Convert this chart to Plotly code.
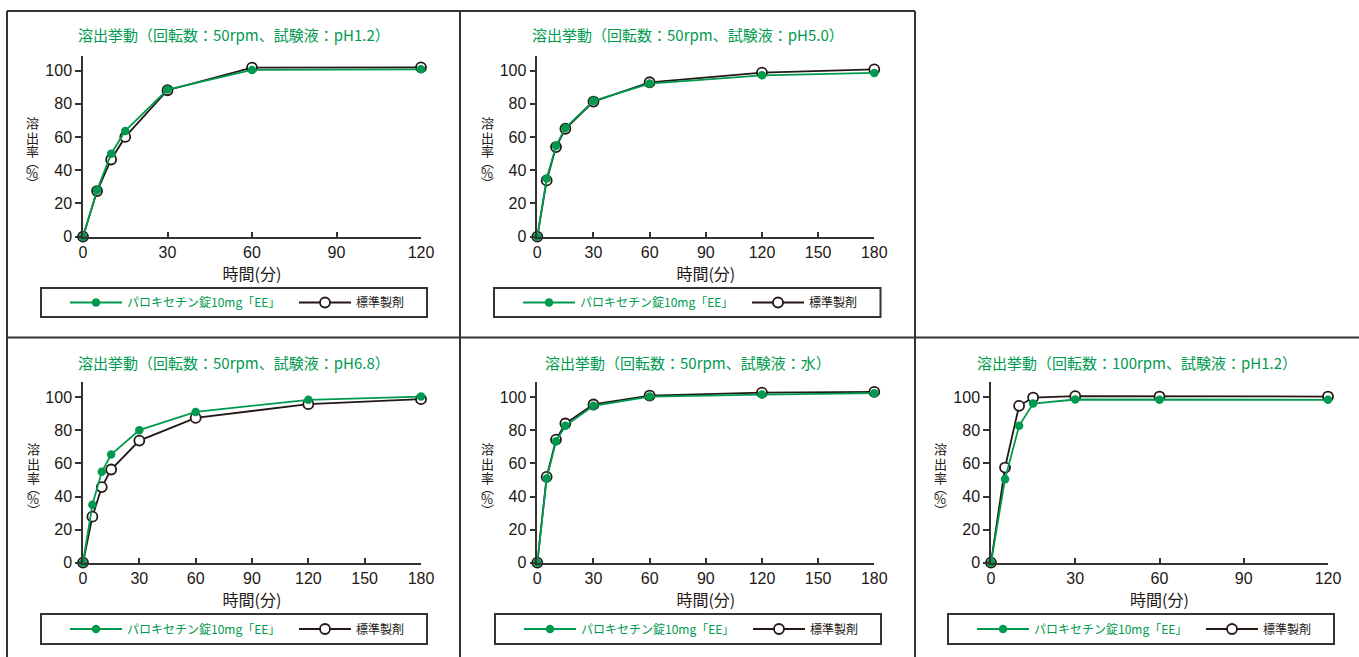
import plotly.graph_objects as go

W, H = 1359, 657

# ---------------- data ----------------
times_120 = [0, 5, 10, 15, 30, 60, 120]
times_180 = [0, 5, 10, 15, 30, 60, 120, 180]

titles = [
    "溶出挙動（回転数：50rpm、試験液：pH1.2）",
    "溶出挙動（回転数：50rpm、試験液：pH5.0）",
    "溶出挙動（回転数：50rpm、試験液：pH6.8）",
    "溶出挙動（回転数：50rpm、試験液：水）",
    "溶出挙動（回転数：100rpm、試験液：pH1.2）",
]
series_names = ["パロキセチン錠10mg「EE」", "標準製剤"]

p1_test = [0, 28.0, 50.0, 63.7, 88.6, 100.4, 100.8]
p1_ref = [0, 27.5, 46.5, 60.1, 88.2, 101.8, 102.0]
p2_test = [0, 35.0, 54.7, 65.5, 81.8, 92.2, 97.2, 98.6]
p2_ref = [0, 33.9, 54.0, 65.0, 81.4, 93.0, 98.8, 100.8]
p3_test = [0, 35.0, 54.9, 65.4, 80.1, 91.1, 98.4, 100.4]
p3_ref = [0, 27.8, 45.7, 56.3, 73.8, 87.5, 95.8, 98.8]
p4_test = [0, 50.9, 73.4, 82.7, 94.8, 100.4, 101.6, 102.4]
p4_ref = [0, 51.9, 74.4, 84.1, 95.6, 101.0, 102.8, 103.2]
p5_test = [0, 50.5, 82.7, 96.2, 98.6, 98.4, 98.4]
p5_ref = [0, 57.5, 94.8, 99.8, 100.6, 100.4, 100.4]

xticks_120 = [0, 30, 60, 90, 120]
xticks_180 = [0, 30, 60, 90, 120, 150, 180]
yticks = [0, 20, 40, 60, 80, 100]
x_title = "時間(分)"
y_title_chars = ["溶", "出", "率", "︵", "%", "︶"]

# ---------------- style ----------------
GREEN = "#009A4E"
DARK = "#231815"
AX = "#333333"
JP = "Noto Sans CJK JP"
NUM = "Liberation Sans, Arial"

panels = [
    dict(times=times_120, test=p1_test, ref=p1_ref, xmax=120, xt=xticks_120,
         px=(83, 421), py=(55.7, 236.7), cell=(7, 460), ty=35, yx=32,
         box=(41, 288, 427, 317)),
    dict(times=times_180, test=p2_test, ref=p2_ref, xmax=180, xt=xticks_180,
         px=(537.3, 874.3), py=(55.7, 236.7), cell=(460, 915), ty=35, yx=487,
         box=(494, 288, 880.5, 317)),
    dict(times=times_180, test=p3_test, ref=p3_ref, xmax=180, xt=xticks_180,
         px=(83, 421), py=(382.3, 562.7), cell=(7, 460), ty=362, yx=33,
         box=(41, 614, 427, 644)),
    dict(times=times_180, test=p4_test, ref=p4_ref, xmax=180, xt=xticks_180,
         px=(537.3, 874.3), py=(382.3, 562.7), cell=(460, 915), ty=362, yx=487,
         box=(495, 614, 881, 644)),
    dict(times=times_120, test=p5_test, ref=p5_ref, xmax=120, xt=xticks_120,
         px=(991, 1328), py=(382.3, 562.7), cell=(915, 1359), ty=362, yx=940,
         box=(948, 614, 1334, 644)),
]

def fx(p):
    return p / W

def fy(p):
    return 1 - p / H

fig = go.Figure()
layout = dict(
    width=W, height=H, margin=dict(l=0, r=0, t=0, b=0, autoexpand=False),
    paper_bgcolor="white", plot_bgcolor="white", showlegend=True,
    font=dict(family=NUM, color=DARK),
)
annotations = []
shapes = []

for i, p in enumerate(panels):
    k = i + 1
    sfx = "" if k == 1 else str(k)
    xa, ya = "x" + sfx, "y" + sfx
    lg = "legend" + sfx
    ymax = 109
    # reference first (drawn beneath), test second
    fig.add_trace(go.Scatter(
        x=p["times"], y=p["ref"], name=series_names[1], mode="lines+markers",
        line=dict(color=DARK, width=1.8),
        marker=dict(symbol="circle", size=10, color="white",
                    line=dict(color=DARK, width=1.8)),
        xaxis=xa, yaxis=ya, legend=lg, legendrank=2, cliponaxis=False,
    ))
    fig.add_trace(go.Scatter(
        x=p["times"], y=p["test"],
        name='<span style="color:%s">%s</span>' % (GREEN, series_names[0]),
        mode="lines+markers",
        line=dict(color=GREEN, width=1.8),
        marker=dict(symbol="circle", size=8.5, color=GREEN),
        xaxis=xa, yaxis=ya, legend=lg, legendrank=1, cliponaxis=False,
    ))
    layout["xaxis" + sfx] = dict(
        domain=[fx(p["px"][0]), fx(p["px"][1])], anchor=ya,
        range=[0, p["xmax"]], tickvals=p["xt"], ticks="inside", ticklen=5,
        tickwidth=1.5, tickcolor=AX, showline=True, linecolor=AX, linewidth=1.5,
        showgrid=False, zeroline=False,
        tickfont=dict(family=NUM, size=16, color=DARK),
        title=dict(text=x_title, font=dict(family=JP, size=16, color=DARK), standoff=1),
    )
    layout["yaxis" + sfx] = dict(
        domain=[fy(p["py"][1]), fy(p["py"][0])], anchor=xa,
        range=[0, ymax], tickvals=yticks, ticks="outside", ticklen=6,
        tickwidth=1.5, tickcolor=AX, showline=True, linecolor=AX, linewidth=1.5,
        showgrid=False, zeroline=False,
        tickfont=dict(family=NUM, size=16, color=DARK),
    )
    cx = (p["cell"][0] + p["cell"][1]) / 2
    annotations.append(dict(
        text=titles[i], x=fx(cx), y=fy(p["ty"]), xref="paper", yref="paper",
        xanchor="center", yanchor="middle", showarrow=False,
        font=dict(family=JP, size=15, color=GREEN),
    ))
    # vertical y-axis title, upright characters
    y0 = p["py"][1] - 114.7
    offs = [0, 15, 29, 39.5, 50, 61]
    for ch, o in zip(y_title_chars, offs):
        annotations.append(dict(
            text=ch, x=fx(p["yx"]), y=fy(y0 + o), xref="paper", yref="paper",
            xanchor="center", yanchor="middle", showarrow=False,
            font=dict(family=JP, size=13, color=DARK),
        ))
    bx0, by0, bx1, by1 = p["box"]
    shapes.append(dict(type="rect", xref="paper", yref="paper",
                       x0=fx(bx0), y0=fy(by1), x1=fx(bx1), y1=fy(by0),
                       line=dict(color=AX, width=2), fillcolor="rgba(0,0,0,0)"))
    layout[lg] = dict(
        x=fx(bx0 + 24), y=fy((by0 + by1) / 2), xanchor="left", yanchor="middle",
        orientation="h", borderwidth=0, bgcolor="rgba(0,0,0,0)",
        itemwidth=52, entrywidth=162, traceorder="normal",
        font=dict(family=JP, size=12, color=DARK),
    )

# cell borders
line = dict(color=AX, width=2)
for x0, y0, x1, y1 in [(7, 11, 915, 11), (7, 11, 7, 657), (460, 11, 460, 657),
                       (915, 11, 915, 657), (7, 337.5, 1359, 337.5)]:
    shapes.append(dict(type="line", xref="paper", yref="paper",
                       x0=fx(x0), y0=fy(y0), x1=fx(x1), y1=fy(y1), line=line))

layout["annotations"] = annotations
layout["shapes"] = shapes
fig.update_layout(**layout)
fig.write_html("out.html", config={"displayModeBar": False},
               post_script="document.body.style.margin='0';document.body.style.overflow='hidden';")
